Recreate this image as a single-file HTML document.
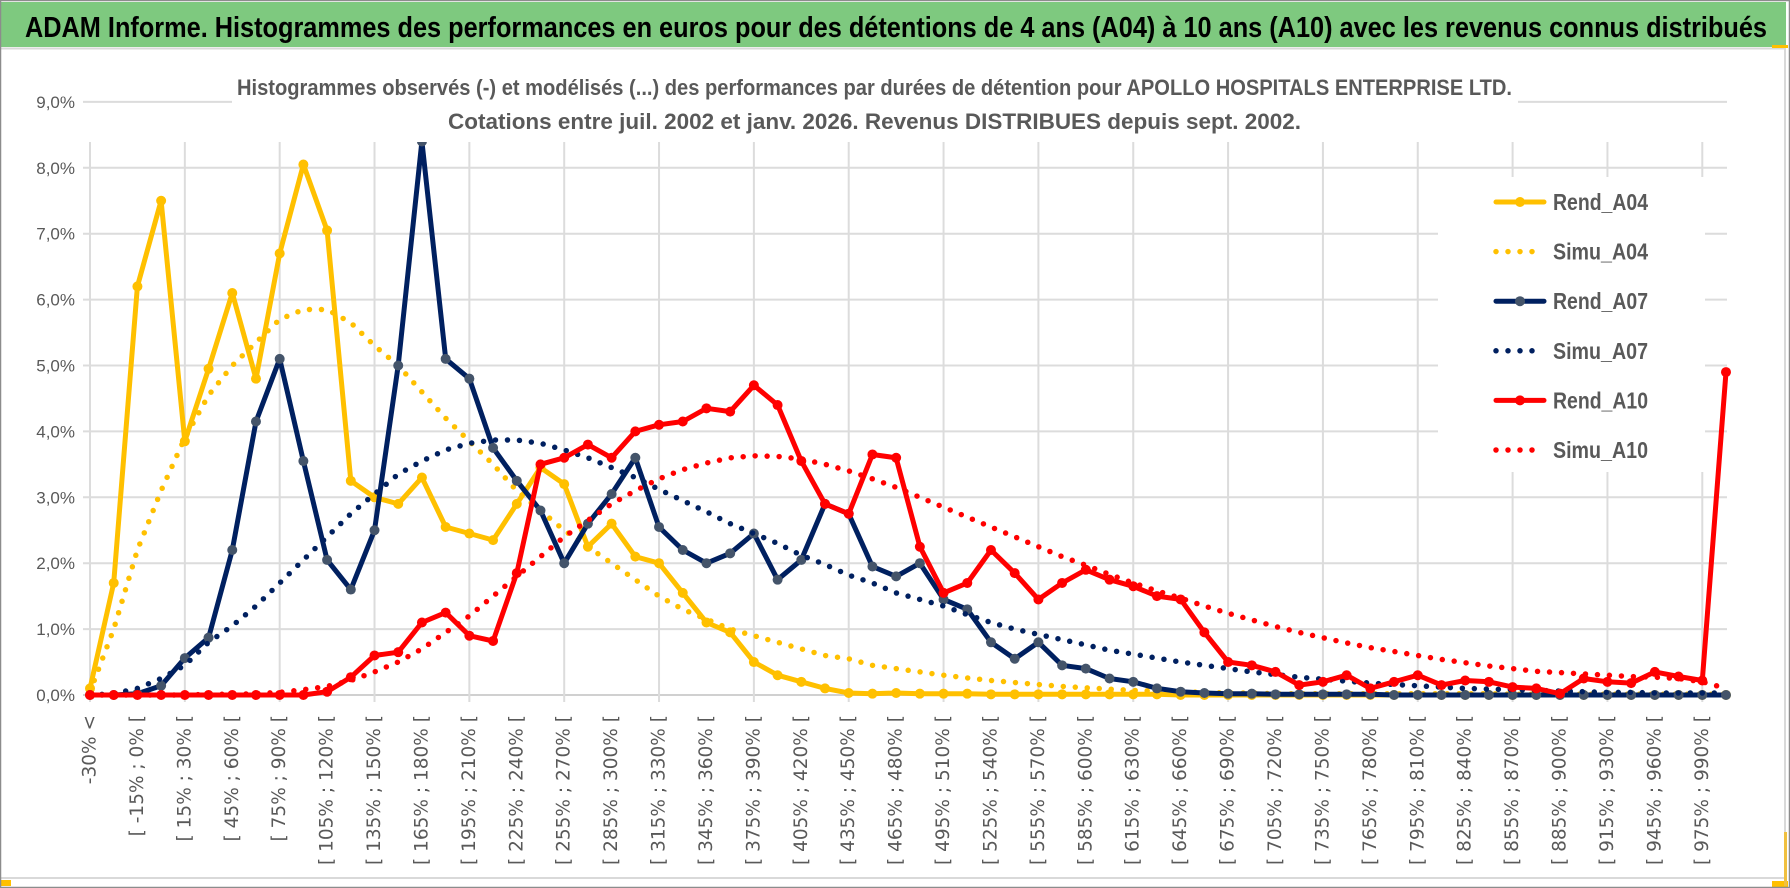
<!DOCTYPE html>
<html><head><meta charset="utf-8"><style>
html,body{margin:0;padding:0;background:#fff;}
svg{display:block;font-family:"Liberation Sans",sans-serif;}
</style></head><body>
<svg id="chart" width="1790" height="888" viewBox="0 0 1790 888" xmlns="http://www.w3.org/2000/svg">
<rect x="0" y="0" width="1790" height="888" fill="#fff"/>
<rect x="1" y="2" width="1785" height="45" fill="#7ec97f"/>
<text x="25" y="37" font-size="29" font-weight="bold" fill="#000" textLength="1742" lengthAdjust="spacingAndGlyphs">ADAM Informe. Histogrammes des performances en euros pour des détentions de 4 ans (A04) à 10 ans (A10) avec les revenus connus distribués</text>
<line x1="0" y1="48.5" x2="1786" y2="48.5" stroke="#d9d9d9" stroke-width="2"/>
<line x1="0" y1="878" x2="1786" y2="878" stroke="#d9d9d9" stroke-width="2"/>
<line x1="1785" y1="48" x2="1785" y2="878" stroke="#d9d9d9" stroke-width="2"/>
<rect x="0" y="880" width="11" height="6" fill="#ffc000"/>
<rect x="1772" y="881" width="16" height="6" fill="#ffc000"/>
<rect x="1784" y="832" width="3" height="54" fill="#f0c040"/>
<rect x="1772" y="45" width="16" height="3" fill="#ffc000"/>
<rect x="0.5" y="0.5" width="1789" height="887" fill="none" stroke="#8c8c8c" stroke-width="1.5"/>
<g id="grid"></g>
<g id="axes"></g>
<g id="series"></g>
<rect x="232" y="60" width="1286" height="82" fill="#fff"/>
<text x="237" y="95" font-size="22" font-weight="bold" fill="#595959" textLength="1275" lengthAdjust="spacingAndGlyphs">Histogrammes observés (-) et modélisés (...) des performances par durées de détention pour APOLLO HOSPITALS ENTERPRISE LTD.</text>
<text x="448" y="129" font-size="22" font-weight="bold" fill="#595959" textLength="853" lengthAdjust="spacingAndGlyphs">Cotations entre juil. 2002 et janv. 2026. Revenus DISTRIBUES depuis sept. 2002.</text>
<g id="legend"></g>
</svg>
<script>
const categories = ["-30% <","[ -30% ; -15% [","[ -15% ; 0% [","[ 0% ; 15% [","[ 15% ; 30% [","[ 30% ; 45% [","[ 45% ; 60% [","[ 60% ; 75% [","[ 75% ; 90% [","[ 90% ; 105% [","[ 105% ; 120% [","[ 120% ; 135% [","[ 135% ; 150% [","[ 150% ; 165% [","[ 165% ; 180% [","[ 180% ; 195% [","[ 195% ; 210% [","[ 210% ; 225% [","[ 225% ; 240% [","[ 240% ; 255% [","[ 255% ; 270% [","[ 270% ; 285% [","[ 285% ; 300% [","[ 300% ; 315% [","[ 315% ; 330% [","[ 330% ; 345% [","[ 345% ; 360% [","[ 360% ; 375% [","[ 375% ; 390% [","[ 390% ; 405% [","[ 405% ; 420% [","[ 420% ; 435% [","[ 435% ; 450% [","[ 450% ; 465% [","[ 465% ; 480% [","[ 480% ; 495% [","[ 495% ; 510% [","[ 510% ; 525% [","[ 525% ; 540% [","[ 540% ; 555% [","[ 555% ; 570% [","[ 570% ; 585% [","[ 585% ; 600% [","[ 600% ; 615% [","[ 615% ; 630% [","[ 630% ; 645% [","[ 645% ; 660% [","[ 660% ; 675% [","[ 675% ; 690% [","[ 690% ; 705% [","[ 705% ; 720% [","[ 720% ; 735% [","[ 735% ; 750% [","[ 750% ; 765% [","[ 765% ; 780% [","[ 780% ; 795% [","[ 795% ; 810% [","[ 810% ; 825% [","[ 825% ; 840% [","[ 840% ; 855% [","[ 855% ; 870% [","[ 870% ; 885% [","[ 885% ; 900% [","[ 900% ; 915% [","[ 915% ; 930% [","[ 930% ; 945% [","[ 945% ; 960% [","[ 960% ; 975% [","[ 975% ; 990% [","990% >="];
const yTicks = [0,1,2,3,4,5,6,7,8,9];
const yTickLabels = ["0,0%","1,0%","2,0%","3,0%","4,0%","5,0%","6,0%","7,0%","8,0%","9,0%"];
const rendA04 = [0.1,1.7,6.2,7.5,3.85,4.95,6.1,4.8,6.7,8.05, 7.05,3.25,3.0,2.9,3.3,2.55,2.45,2.35,2.9,3.45, 3.2,2.25,2.6,2.1,2.0,1.55,1.1,0.95,0.5,0.3, 0.2,0.1,0.03,0.02,0.03,0.02,0.02,0.02,0.01,0.01, 0.01,0.01,0.01,0.01,0.01,0.01,0,0,0,0, 0,0,0,0,0,0,0,0,0,0, 0,0,0,0,0,0,0,0,0,0];
const simuA04 = [0.05,1.0,2.2,3.1,3.9,4.55,5.0,5.35,5.7,5.85, 5.85,5.65,5.3,5.0,4.6,4.2,3.85,3.5,3.1,2.8, 2.5,2.25,2.0,1.75,1.5,1.3,1.15,1.0,0.9,0.8, 0.7,0.6,0.55,0.45,0.4,0.35,0.3,0.26,0.22,0.19, 0.16,0.13,0.11,0.09,0.07,0.06,0.05,0.04,0.03,0.03, 0.02,0.02,0.02,0.02,0.02,0.02,0.02,0.02,0.02,0.02, 0.01,0.01,0.01,0.01,0.01,0.01,0.01,0.01,0.01,0.01];
const rendA07 = [0,0,0.02,0.14,0.56,0.87,2.2,4.15,5.1,3.55, 2.05,1.6,2.5,5.0,8.4,5.1,4.8,3.75,3.25,2.8, 2.0,2.6,3.05,3.6,2.55,2.2,2.0,2.15,2.45,1.75, 2.05,2.9,2.75,1.95,1.8,2.0,1.45,1.3,0.8,0.55, 0.8,0.45,0.4,0.25,0.2,0.1,0.05,0.03,0.02,0.02, 0.01,0.01,0.01,0.01,0.01,0,0,0,0,0, 0,0,0,0,0,0,0,0,0,0];
const simuA07 = [0,0.02,0.1,0.25,0.45,0.8,1.05,1.35,1.7,2.05, 2.4,2.75,3.05,3.35,3.55,3.72,3.82,3.87,3.87,3.82, 3.72,3.6,3.45,3.3,3.12,2.95,2.78,2.6,2.45,2.3, 2.12,1.98,1.82,1.7,1.55,1.45,1.35,1.22,1.1,1.0, 0.92,0.84,0.76,0.68,0.62,0.56,0.5,0.45,0.4,0.35, 0.31,0.27,0.24,0.21,0.18,0.16,0.14,0.12,0.1,0.09, 0.08,0.07,0.06,0.05,0.04,0.04,0.03,0.03,0.03,0.03];
const rendA10 = [0,0,0,0,0,0,0,0,0,0, 0.05,0.27,0.6,0.65,1.1,1.25,0.9,0.82,1.85,3.5, 3.6,3.8,3.6,4.0,4.1,4.15,4.35,4.3,4.7,4.4, 3.55,2.9,2.75,3.65,3.6,2.25,1.55,1.7,2.2,1.85, 1.45,1.7,1.9,1.75,1.65,1.5,1.45,0.95,0.5,0.45, 0.35,0.15,0.2,0.3,0.1,0.2,0.3,0.15,0.22,0.2, 0.12,0.1,0.02,0.25,0.2,0.18,0.35,0.28,0.22,4.9];
const simuA10 = [0,0,0,0,0,0.01,0.01,0.02,0.04,0.08, 0.13,0.22,0.35,0.5,0.7,0.95,1.2,1.5,1.8,2.1, 2.4,2.65,2.9,3.1,3.28,3.42,3.52,3.6,3.63,3.62, 3.58,3.5,3.4,3.28,3.15,3.0,2.85,2.7,2.55,2.4, 2.25,2.1,1.97,1.83,1.7,1.58,1.47,1.35,1.24,1.14, 1.04,0.95,0.87,0.79,0.72,0.66,0.6,0.54,0.49,0.44, 0.4,0.36,0.34,0.32,0.3,0.28,0.27,0.25,0.2,0.1];
const seriesNames = ["Rend_A04","Simu_A04","Rend_A07","Simu_A07","Rend_A10","Simu_A10"];

const NS = "http://www.w3.org/2000/svg";
const X0 = 90, XSTEP = 23.71, Y0 = 695, YSTEP = 65.9;
function xPos(i){ return X0 + i * XSTEP; }
function yPos(v){ return Y0 - v * YSTEP; }
function mk(tag, attrs, parent){ const e = document.createElementNS(NS, tag); for (const k in attrs) e.setAttribute(k, attrs[k]); parent.appendChild(e); return e; }

const grid = document.getElementById('grid');
const axes = document.getElementById('axes');
const series = document.getElementById('series');
const legend = document.getElementById('legend');

yTicks.forEach((t, k) => {
  const l = mk('line', {x1: 83, x2: 1727, y1: yPos(t), y2: yPos(t), stroke: t === 0 ? '#d0d0d0' : '#dcdcdc', 'stroke-width': 2}, grid);
  
  
  const tx = mk('text', {x: 75, y: yPos(t) + 6, 'text-anchor': 'end', 'font-size': 17, fill: '#595959'}, axes);
  
  
  tx.textContent = yTickLabels[k];
});
categories.forEach((c, i) => {
  if (i % 4 === 0) {
    const l = mk('line', {x1: xPos(i), x2: xPos(i), y1: 142, y2: Y0 + 7, stroke: '#dcdcdc', 'stroke-width': 2}, grid);
    
    
  }
  if (i % 2 === 0 && i < 69) {
    const tx = mk('text', {x: 0, y: 0, 'text-anchor': 'end', 'dominant-baseline': 'central', 'font-size': 18.5, 'font-family': '"DejaVu Sans", sans-serif', fill: '#595959', transform: 'translate(' + xPos(i) + ',715) rotate(-90)'}, axes);
    
    
    tx.textContent = c;
  }
});

const styles = [
  {data: rendA04, color: '#ffc000', marker: '#ffc000', dotted: false},
  {data: simuA04, color: '#ffc000', dotted: true},
  {data: rendA07, color: '#002060', marker: '#44546a', dotted: false},
  {data: simuA07, color: '#002060', dotted: true},
  {data: rendA10, color: '#ff0000', marker: '#ff0000', dotted: false},
  {data: simuA10, color: '#ff0000', dotted: true}
];
styles.forEach((s, si) => {
  const g = mk('g', {}, series);
  
  
  const pts = s.data.map((v, i) => xPos(i).toFixed(1) + ',' + yPos(v).toFixed(1)).join(' ');
  const pl = mk('polyline', {points: pts, fill: 'none', stroke: s.color, 'stroke-width': s.dotted ? 5.5 : 5, 'stroke-linejoin': 'round', 'stroke-linecap': 'round'}, g);
  if (s.dotted) pl.setAttribute('stroke-dasharray', '0 12');
  
  
  if (!s.dotted) {
    s.data.forEach((v, i) => {
      const c = mk('circle', {cx: xPos(i), cy: yPos(v), r: 5, fill: s.marker}, g);
      
      
    });
  }
});

const lb = mk('rect', {x: 1438, y: 177, width: 267, height: 295, fill: '#fff'}, legend);


styles.forEach((s, si) => {
  const y = 202 + si * 49.6;
  const g = mk('g', {}, legend);
  
  
  const l = mk('line', {x1: 1496, x2: 1544, y1: y, y2: y, stroke: s.color, 'stroke-width': s.dotted ? 5.5 : 5, 'stroke-linecap': 'round'}, g);
  if (s.dotted) l.setAttribute('stroke-dasharray', '0 12');
  
  
  if (!s.dotted) {
    const c = mk('circle', {cx: 1520, cy: y, r: 5, fill: s.marker}, g);
    
    
  }
  const t = mk('text', {x: 1553, y: y + 8, 'font-size': 23, 'font-weight': 'bold', fill: '#595959', textLength: 95, lengthAdjust: 'spacingAndGlyphs'}, g);
  
  
  t.textContent = seriesNames[si];
});
</script>
</body></html>
